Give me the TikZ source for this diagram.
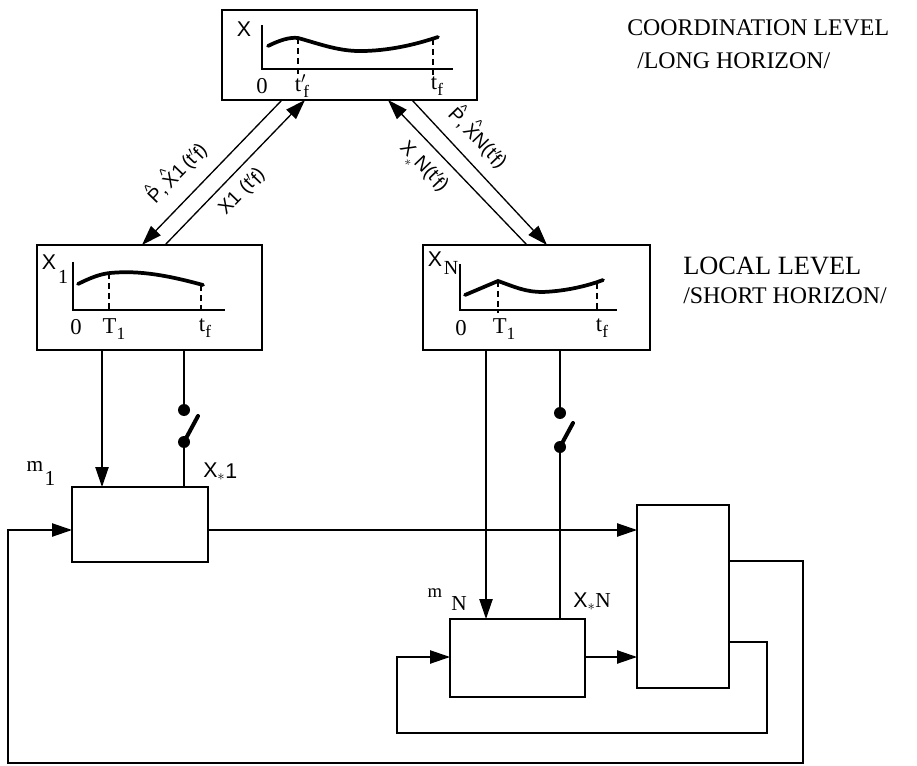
\documentclass[tikz,border=0pt]{standalone}
\usepackage{fontspec}
\setmainfont{Liberation Serif}
\setsansfont{Liberation Sans}
\usepackage{graphicx}
\usetikzlibrary{arrows.meta,calc}
\newcommand{\lowsub}[1]{\raisebox{-4.5pt}{\fontsize{13}{13}\selectfont #1}}
\newcommand{\hatted}[1]{\leavevmode\hbox{\ooalign{#1\cr\hidewidth\raisebox{0.55em}{\fontsize{11}{11}\selectfont\^{}}\hidewidth\cr}}}
\begin{document}
\begin{tikzpicture}[x=0.75pt,y=-0.75pt,
  box/.style={draw,line width=1.9pt,inner sep=0pt,outer sep=0pt},
  ln/.style={line width=1pt},
  arr/.style={ln,-{Triangle[length=15pt,width=10pt]}},
  crv/.style={line width=2.8pt,line cap=round},
  ax/.style={line width=1.1pt},
  dsh/.style={line width=1.1pt,dash pattern=on 4.5pt off 3pt},
  sdot/.style={circle,fill,inner sep=0pt,minimum size=9pt},
  lever/.style={line width=3pt,line cap=round},
  glab/.style={font=\fontsize{17}{19}\selectfont,inner sep=0pt},
  xlab/.style={font=\sffamily\fontsize{16}{18}\selectfont,inner sep=0pt},
  hw/.style={font=\sffamily\fontsize{14.5}{16}\selectfont,inner sep=0pt},
  big/.style={font=\fontsize{17.9}{20}\selectfont,inner sep=0pt,anchor=base west}
]
\useasboundingbox (0,0) rectangle (917,766);

% boxes
\node[box,minimum width=191.25pt,minimum height=67.5pt] (T) at (349.5,55) {};
\node[box,minimum width=168.75pt,minimum height=78.75pt] (L1) at (149.5,297.5) {};
\node[box,minimum width=170.25pt,minimum height=78.75pt] (LN) at (536.5,297.5) {};
\node[box,minimum width=102pt,minimum height=56.25pt] (M1) at (140,524.5) {};
\node[box,minimum width=101.25pt,minimum height=58.5pt] (MN) at (517.5,658) {};
\node[box,minimum width=69pt,minimum height=137.25pt] (P) at (683,596.5) {};

% top box graph
\node[xlab] (tX) at (244,29) {X};
\draw[ax] (262,25) -- (262,69) -- (453,69);
\draw[crv] (268,46) .. controls (280,40) and (290,37) .. (298,38)
  .. controls (320,44) and (340,52) .. (365,51)
  .. controls (395,50) and (420,43) .. (438,37);
\draw[dsh] (298,38) -- (298,75);
\draw[dsh] (433,39) -- (433,75);
\node[glab] (t0) at (262,86) {0};
\node[glab] (t1) at (302,86) {t$'$\kern-2pt\lowsub{f}};
\node[glab] (t2) at (437,86) {t\lowsub{f}};

% left local graph
\node[xlab] (lX) at (49,262) {X};
\node[glab,font=\fontsize{15}{17}\selectfont] (lXs) at (63,277) {1};
\draw[ax] (73,262) -- (73,310) -- (225,310);
\draw[crv] (78,284) .. controls (90,278) and (100,274) .. (110,273)
  .. controls (140,270) and (170,276) .. (203,285);
\draw[dsh] (109,273) -- (109,313);
\draw[dsh] (201,285) -- (201,313);
\node[glab] (l0) at (76,327) {0};
\node[glab] (l1) at (114,329) {T\lowsub{1}};
\node[glab] (l2) at (205,328) {t\lowsub{f}};

% right local graph
\node[xlab] (rX) at (435,259) {X};
\node[glab,font=\fontsize{15}{17}\selectfont] (rXs) at (451,268) {N};
\draw[ax] (460,264) -- (460,310) -- (617,310);
\draw[crv] (465,295) -- (498,281) .. controls (515,287) and (525,292) .. (543,292)
  .. controls (568,291) and (590,285) .. (603,280);
\draw[dsh] (498,281) -- (498,313);
\draw[dsh] (597,283) -- (597,313);
\node[glab] (r0) at (461,328) {0};
\node[glab] (r1) at (504,329) {T\lowsub{1}};
\node[glab] (r2) at (602,328) {t\lowsub{f}};

% diagonal connectors
\draw[arr] ($(T.south west)+(60,0)$) -- ($(L1.north west)+(105,0)$);
\draw[arr] ($(L1.north west)+(128,0)$) -- ($(T.south west)+(83,0)$);
\draw[arr] ($(LN.north west)+(104,0)$) -- ($(T.south west)+(166,0)$);
\draw[arr] ($(T.south west)+(190,0)$) -- ($(LN.north west)+(124,0)$);
\node[hw,rotate=46] (da) at (178,174) {\hatted{P},\,\hatted{X}1\,(t$'$\kern-1pt\raisebox{-2pt}{f})};
\node[hw,rotate=46] (db) at (242,192) {X1\,\,(t$'$\kern-1pt\raisebox{-2pt}{f})};
\node[hw,rotate=-46] (dc) at (423,168) {X\raisebox{-3pt}{$_*$}N(t$'$\kern-1pt\raisebox{-2pt}{f})};
\node[hw,rotate=-46] (dd) at (477,139) {\hatted{P},\,\hatted{X}N(t$'$\kern-1pt\raisebox{-2pt}{f})};

% local 1 to m1
\coordinate (a1) at (102,0);
\draw[arr] (L1.south -| a1) -- (M1.north -| a1);
\node[sdot] (d1a) at (184,410) {};
\node[sdot] (d1b) at (184,442) {};
\coordinate (e1) at (198,416);
\draw[ln] (L1.south -| d1a) -- (d1a);
\draw[ln] (d1b) -- (M1.north -| d1b);
\draw[lever] (d1b.center) -- (e1);

% local N to mN
\coordinate (aN) at (486,0);
\draw[arr] (LN.south -| aN) -- (MN.north -| aN);
\node[sdot] (dNa) at (560,413) {};
\node[sdot] (dNb) at (560,447) {};
\coordinate (eN) at (573,423);
\draw[ln] (LN.south -| dNa) -- (dNa);
\draw[ln] (dNb) -- (MN.north -| dNb);
\draw[lever] (dNb.center) -- (eN);

% labels at m boxes
\node[font=\fontsize{16}{18}\selectfont,inner sep=0pt] (m1l) at (35,466) {m};
\node[font=\fontsize{16}{18}\selectfont,inner sep=0pt] (m1s) at (50,478) {1};
\node[xlab,anchor=base west] (x1l) at (203,477) {X$_{*}$\raisebox{-1pt}{1}};
\node[font=\fontsize{14}{16}\selectfont,inner sep=0pt] (mNl) at (435,593) {m};
\node[font=\fontsize{16}{18}\selectfont,inner sep=0pt] (mNs) at (459,604) {N};
\node[xlab,anchor=base west] (xNl) at (573,607) {X$_{*}$\rmfamily N};

% plant connections
\coordinate (y1) at (0,530);
\coordinate (y2) at (0,657);
\draw[arr] (M1.east |- y1) -- (P.west |- y1);
\draw[arr] (MN.east |- y2) -- (P.west |- y2);
\draw[arr] (P.east |- 0,561) -- (803,561) -- (803,763) -- (8,763) -- (8,530) -- (M1.west |- y1);
\draw[arr] (P.east |- 0,642) -- (767,642) -- (767,733) -- (397,733) -- (397,657) -- (MN.west |- y2);

% level texts
\node[big] (c1) at (627,36) {COORDINATION LEVEL};
\node[big] (c2) at (637,69) {/LONG HORIZON/};
\node[big] (c3) at (683,275) {\resizebox{133.5pt}{!}{LOCAL LEVEL}};
\node[big] (c4) at (683,304) {/SHORT HORIZON/};
\end{tikzpicture}
\end{document}
